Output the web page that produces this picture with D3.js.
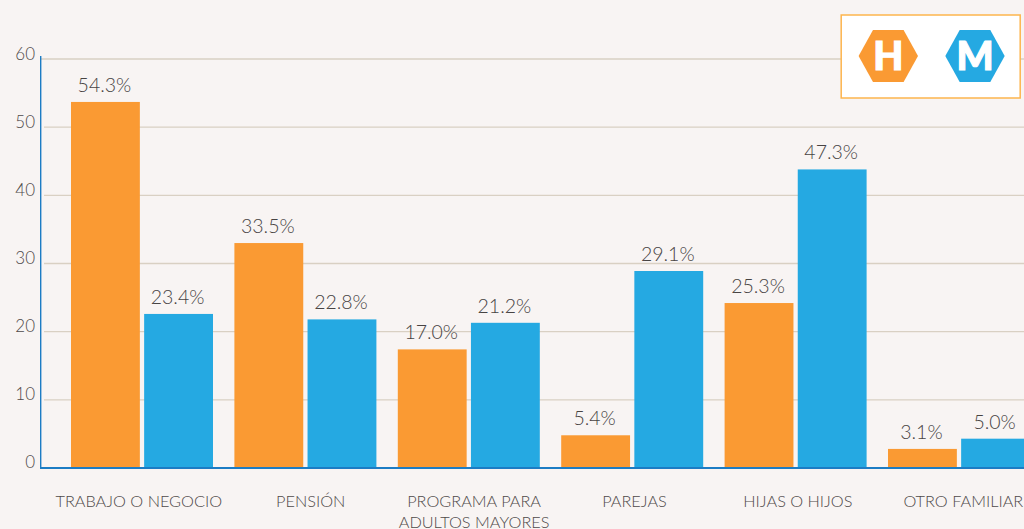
<!DOCTYPE html>
<html><head><meta charset="utf-8">
<script src="https://cdnjs.cloudflare.com/ajax/libs/d3/7.8.5/d3.min.js"></script>
<style>html,body{margin:0;padding:0;background:#f8f4f3;overflow:hidden}svg{display:block}text{font-family:Lato,sans-serif}</style>
</head><body><svg id="c" width="1024" height="529"></svg>
<script>
const categories=[["TRABAJO O NEGOCIO"],["PENSIÓN"],["PROGRAMA PARA","ADULTOS MAYORES"],["PAREJAS"],["HIJAS O HIJOS"],["OTRO FAMILIAR"]];
const seriesNames=["H","M"];
const seriesColors=["#fa9a33","#25a9e2"];
const hombresLabels=["54.3%","33.5%","17.0%","5.4%","25.3%","3.1%"];
const mujeresLabels=["23.4%","22.8%","21.2%","29.1%","47.3%","5.0%"];
const hombresHeights=[53.7,33.0,17.4,4.8,24.2,2.8];
const mujeresHeights=[22.6,21.8,21.3,28.9,43.8,4.3];
const yTicks=[0,10,20,30,40,50,60];

const svg=d3.select("#c");
const y=d3.scaleLinear().domain([0,60]).range([468,59]);
const keys=categories.map((d,i)=>i);
const x=d3.scaleBand().domain(keys).range([60.1,1040.5]);
const sub=d3.scaleBand().domain([0,1]).range([71-60.1,213-60.1]).paddingInner(4.3/73.3);
const catNudge=[-3,5.5,5.5,2.5,2.5,4.5];

svg.append("g").selectAll("line").data(yTicks.filter(t=>t>0)).join("line")
  .attr("x1",d=>d===60?41:44).attr("x2",1024).attr("y1",d=>y(d)).attr("y2",d=>y(d))
  .attr("stroke","#d9d0c3").attr("stroke-width",1.4);

svg.append("g").selectAll("text").data(yTicks).join("text")
  .attr("x",35).attr("y",d=>y(d)+(d===0?-0.5:0.5))
  .attr("text-anchor","end").attr("font-size",17).attr("font-weight",300).attr("fill","#4f4a4a").text(d=>d);

const series=[[hombresHeights,hombresLabels],[mujeresHeights,mujeresLabels]];
series.forEach(([h,l],s)=>{
  const g=svg.append("g");
  g.selectAll("rect").data(keys).join("rect")
   .attr("x",i=>x(i)+sub(s)).attr("width",sub.bandwidth())
   .attr("y",i=>y(h[i])).attr("height",i=>y(0)-y(h[i])).attr("fill",seriesColors[s]);
  g.selectAll("text").data(keys).join("text")
   .attr("x",i=>x(i)+sub(s)+sub.bandwidth()/2-1).attr("y",i=>y(h[i])-10)
   .attr("text-anchor","middle").attr("font-size",19.5).attr("font-weight",300).attr("fill","#474343").text(i=>l[i]);
});

svg.append("line").attr("x1",40.7).attr("x2",40.7).attr("y1",56).attr("y2",468).attr("stroke","#1c7cc4").attr("stroke-width",1.4);
svg.append("line").attr("x1",40).attr("x2",1024).attr("y1",468).attr("y2",468).attr("stroke","#1c7cc4").attr("stroke-width",2);

const catG=svg.append("g");
categories.forEach((lines,i)=>{
  const t=catG.append("text").attr("text-anchor","middle")
    .attr("font-size",16.3).attr("font-weight",300).attr("fill","#4f4a4a");
  lines.forEach((s,j)=>t.append("tspan").attr("x",x(i)+x.bandwidth()/2+catNudge[i]).attr("y",506.5+j*21).text(s));
});

svg.append("rect").attr("x",841.2).attr("y",15).attr("width",179).attr("height",83).attr("fill","#fff").attr("stroke","#fdb54e").attr("stroke-width",1.5);
const hex=(cx,cy)=>[[cx-29.7,cy],[cx-15.3,cy-26],[cx+15.3,cy-26],[cx+29.7,cy],[cx+15.3,cy+26],[cx-15.3,cy+26]].map(p=>p.join(",")).join(" ");
[[888.3,56],[975,56]].forEach(([cx,cy],i)=>{
  svg.append("polygon").attr("points",hex(cx,cy)).attr("fill",seriesColors[i]);
  svg.append("text").attr("x",cx).attr("y",cy+14).attr("text-anchor","middle").attr("font-size",39).attr("font-weight",900).attr("fill","#fff").attr("stroke","#fff").attr("stroke-width",1.2).text(seriesNames[i]);
});
</script></body></html>
